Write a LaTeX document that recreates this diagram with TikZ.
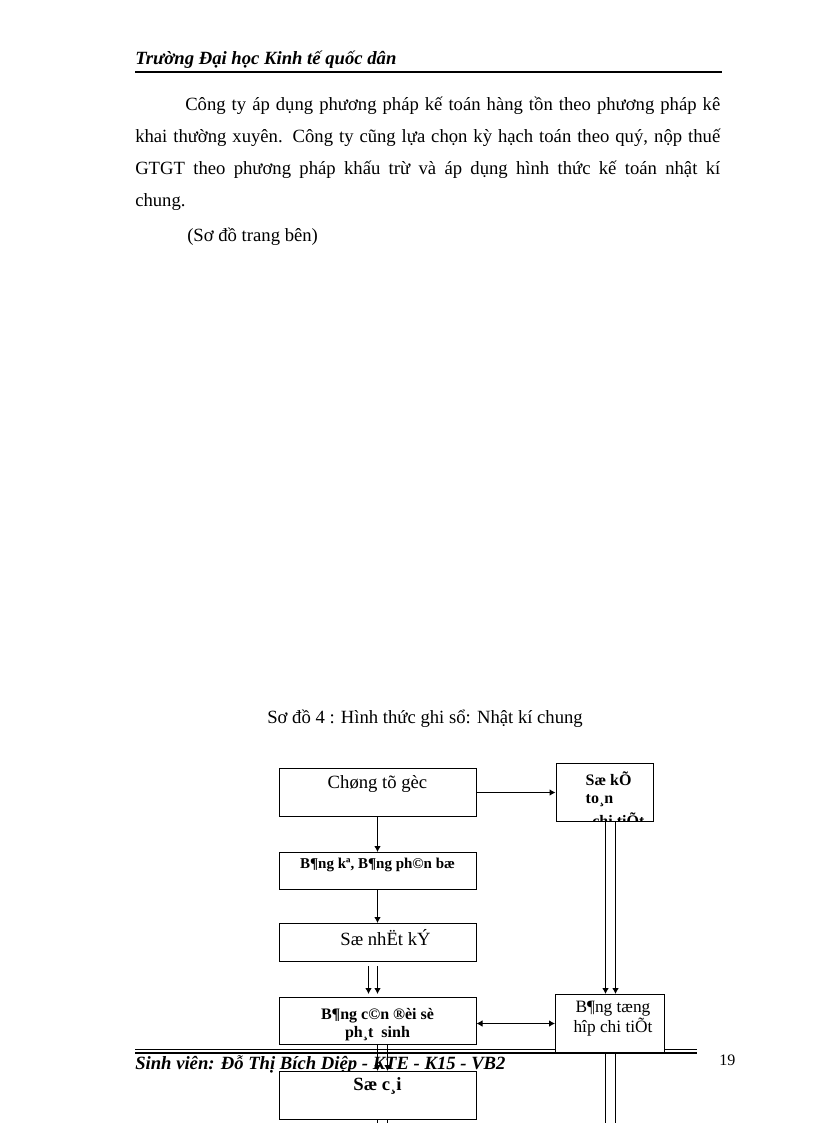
\documentclass[tikz,border=0pt]{standalone}
\usepackage{fontspec}
\setmainfont{Liberation Serif}
\usetikzlibrary{arrows.meta,calc}

\begin{document}
\begin{tikzpicture}[x=0.75pt, y=-0.75pt,
    body/.style={anchor=base west, inner sep=0pt, font=\fontsize{14}{16}\selectfont},
    title/.style={anchor=base west, inner sep=0pt, font=\fontsize{14}{16}\selectfont\bfseries\itshape},
    box/.style={draw, line width=0.75pt, fill=white, inner sep=0pt, anchor=north, minimum width=147.75pt},
    side/.style={draw, line width=0.75pt, fill=white, inner sep=0pt, anchor=north west},
    flow/.style={line width=0.75pt, -{Latex[length=4.5pt,width=5pt]}},
    both/.style={line width=0.75pt, {Latex[length=4.5pt,width=5pt]}-{Latex[length=4.5pt,width=5pt]}},
    pipe/.style={line width=0.75pt},
    ]
    \useasboundingbox (0,0) rectangle (816,1123);

    % page header
    \node[title] (head) at (135,65) {Trường Đại học Kinh tế quốc dân};
    \draw[line width=1.5pt] (135,72) -- (722,72);

    \node[body] (p1) at (185,111) {\makebox[401.25pt][s]{Công ty áp dụng phương pháp kế toán hàng tồn theo phương pháp kê}};
    \node[body] (p2) at (135,143) {\makebox[438.75pt][s]{khai thường xuyên. Công ty cũng lựa chọn kỳ hạch toán theo quý, nộp thuế}};
    \node[body] (p3) at (135,175) {\makebox[438.75pt][s]{GTGT theo phương pháp khấu trừ và áp dụng hình thức kế toán nhật kí}};
    \node[body] (p4) at (135,207) {chung.};
    \node[body] (p5) at (187,241) {(Sơ đồ trang bên)};

    \node[body] (cap) at (267,723) {Sơ đồ 4 : Hình thức ghi sổ: Nhật kí chung};

    % page footer
    \draw[line width=0.75pt] (135,1049.5) -- (697,1049.5);
    \draw[line width=1.5pt] (135,1052.5) -- (697,1052.5);
    \node[title] (foot) at (135,1069) {Sinh viên: Đỗ Thị Bích Diệp - KTE - K15 - VB2};
    \node[body, font=\fontsize{12}{14}\selectfont] (pg) at (719,1065) {19};

    % boxes
    \node[box, text height=15pt, text depth=21pt, font=\fontsize{14}{16}\selectfont] (src) at (377.5,768) {Chøng tõ gèc};
    \node[box, text height=12pt, text depth=15.75pt, font=\fontsize{11.25}{13}\selectfont\bfseries] (bk) at (377.5,852) {B¶ng kª, B¶ng ph©n bæ};
    \node[box, text height=16.5pt, text depth=12pt, font=\fontsize{14}{16}\selectfont] (nk) at (377.5,923) {\hspace*{12pt}Sæ nhËt kÝ};
    \node[box, text height=30pt, text depth=5.25pt, font=\fontsize{12}{13.5}\selectfont\bfseries] (cd) at (377.5,997)
        {\begin{tabular}[b]{@{}c@{}}B¶ng c©n ®èi sè\\ph¸t\ \ sinh\end{tabular}};
    \node[box, text height=14.25pt, text depth=21.75pt, font=\fontsize{14}{16}\selectfont\bfseries] (sc) at (377.5,1071) {Sæ c¸i};

    \node[side, minimum width=72.75pt, minimum height=43.5pt,
        path picture={\node[anchor=base west, inner sep=0pt, font=\fontsize{12}{13.5}\selectfont\bfseries] (kttext)
            at ($(path picture bounding box.north west)+(10,22)$)
            {\begin{tabular}[t]{@{}l@{}}Sæ kÕ\\to¸n\\[3pt]\hspace*{5pt}chi tiÕt\end{tabular}};}] (kt) at (555.5,763) {};
    \node[side, minimum width=81.75pt, text height=28.5pt, text depth=15pt, font=\fontsize{13}{13.5}\selectfont] (th) at (555,994)
        {\hspace*{4.5pt}\begin{tabular}[b]{@{}c@{}}B¶ng tæng\\hîp chi tiÕt\end{tabular}};

    \coordinate (ta) at ($(kt.south)+(1,0)$);
    \coordinate (tb) at ($(kt.south)+(11,0)$);
    \coordinate (na) at ($(nk.south)+(-9,4)$);
    \coordinate (nb) at ($(nk.south)+(0,4)$);
    \coordinate (ca) at ($(cd.north)+(-9,-3)$);
    \coordinate (cb) at ($(cd.north)+(0,-3)$);
    \coordinate (sa) at ($(sc.south)+(10,0)$);

    % draw arrow
    \draw[flow] (src) -- (kt);
    \draw[flow] (src) -- (bk);
    \draw[flow] (bk) -- (nk);
    \draw[flow] (na) -- (ca);
    \draw[flow] (nb) -- (cb);
    \draw[flow] (ta) -- (ta |- th.north);
    \draw[flow] (tb) -- (tb |- th.north);
    \draw[both] (cd.east |- th.west) -- (th.west);
    \draw[flow] (cd.south) -- (sc.north);
    \draw[flow] (sa |- cd.south) -- (sa |- sc.north);

    % lines running on to the next page
    \coordinate (bot) at (0,1125);
    \draw[pipe] (sc.south) -- (sc.south |- bot);
    \draw[pipe] (sa) -- (sa |- bot);
    \draw[pipe] (ta |- th.south) -- (ta |- bot);
    \draw[pipe] (tb |- th.south) -- (tb |- bot);
\end{tikzpicture}
\end{document}
